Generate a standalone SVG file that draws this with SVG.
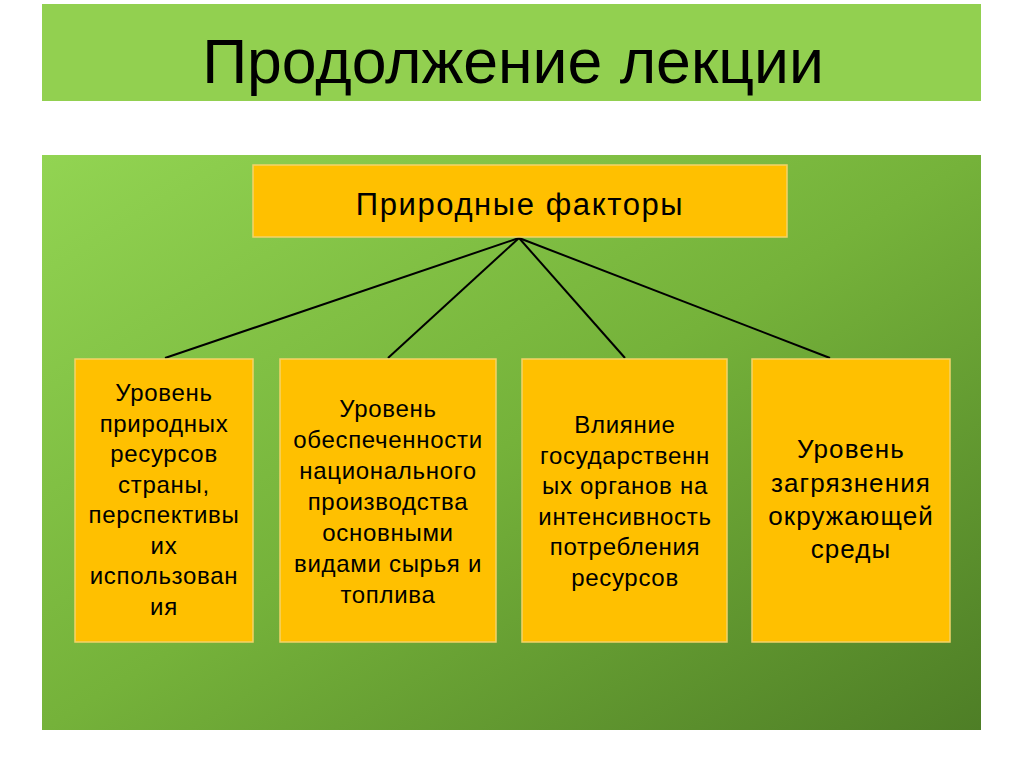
<svg xmlns="http://www.w3.org/2000/svg" width="1024" height="767" viewBox="0 0 1024 767">
<defs>
<linearGradient id="bg" x1="0" y1="0" x2="1" y2="1">
<stop offset="0" stop-color="#92d452"/>
<stop offset="0.5" stop-color="#75b23a"/>
<stop offset="1" stop-color="#4e7e26"/>
</linearGradient>
<style>
.box{fill:#ffc000;stroke:#f3d36a;stroke-width:1.5}
.t{font-family:"Liberation Sans",Arial,sans-serif;fill:#000;text-anchor:middle}
.s{font-size:24px;letter-spacing:0.7px}
.b{font-size:26px;letter-spacing:1.1px}
.conn line{stroke:#000;stroke-width:2}
</style>
</defs>
<rect width="1024" height="767" fill="#fff"/>
<g id="title">
<rect x="42" y="4" width="939" height="97" fill="#92d050"/>
<text class="t" x="513" y="83" font-size="62.5">Продолжение лекции</text>
</g>
<rect id="panel" x="42" y="155" width="939" height="575" fill="url(#bg)"/>
<g class="conn" id="connectors">
<line x1="519" y1="238" x2="165" y2="358"/>
<line x1="519" y1="238" x2="388" y2="358"/>
<line x1="519" y1="238" x2="625" y2="358"/>
<line x1="519" y1="238" x2="830" y2="358"/>
</g>
<g id="root">
<rect class="box" x="253" y="165" width="534" height="72"/>
<text class="t" x="520" y="215" font-size="31" letter-spacing="1.6">Природные факторы</text>
</g>
<g id="n1">
<rect class="box" x="75" y="359" width="178" height="283"/>
<text class="t s" x="164" y="401">Уровень</text>
<text class="t s" x="164" y="431.5">природных</text>
<text class="t s" x="164" y="462">ресурсов</text>
<text class="t s" x="164" y="492.5">страны,</text>
<text class="t s" x="164" y="523">перспективы</text>
<text class="t s" x="164" y="553.5">их</text>
<text class="t s" x="164" y="584">использован</text>
<text class="t s" x="164" y="614.5">ия</text>
</g>
<g id="n2">
<rect class="box" x="280" y="359" width="216" height="283"/>
<text class="t s" x="388" y="417">Уровень</text>
<text class="t s" x="388" y="448">обеспеченности</text>
<text class="t s" x="388" y="479">национального</text>
<text class="t s" x="388" y="510">производства</text>
<text class="t s" x="388" y="541">основными</text>
<text class="t s" x="388" y="572">видами сырья и</text>
<text class="t s" x="388" y="603">топлива</text>
</g>
<g id="n3">
<rect class="box" x="522" y="359" width="205" height="283"/>
<text class="t s" x="625" y="433">Влияние</text>
<text class="t s" x="625" y="463.5">государственн</text>
<text class="t s" x="625" y="494">ых органов на</text>
<text class="t s" x="625" y="524.5">интенсивность</text>
<text class="t s" x="625" y="555">потребления</text>
<text class="t s" x="625" y="585.5">ресурсов</text>
</g>
<g id="n4">
<rect class="box" x="752" y="359" width="198" height="283"/>
<text class="t b" x="851" y="458">Уровень</text>
<text class="t b" x="851" y="491.5">загрязнения</text>
<text class="t b" x="851" y="525">окружающей</text>
<text class="t b" x="851" y="558">среды</text>
</g>
</svg>
